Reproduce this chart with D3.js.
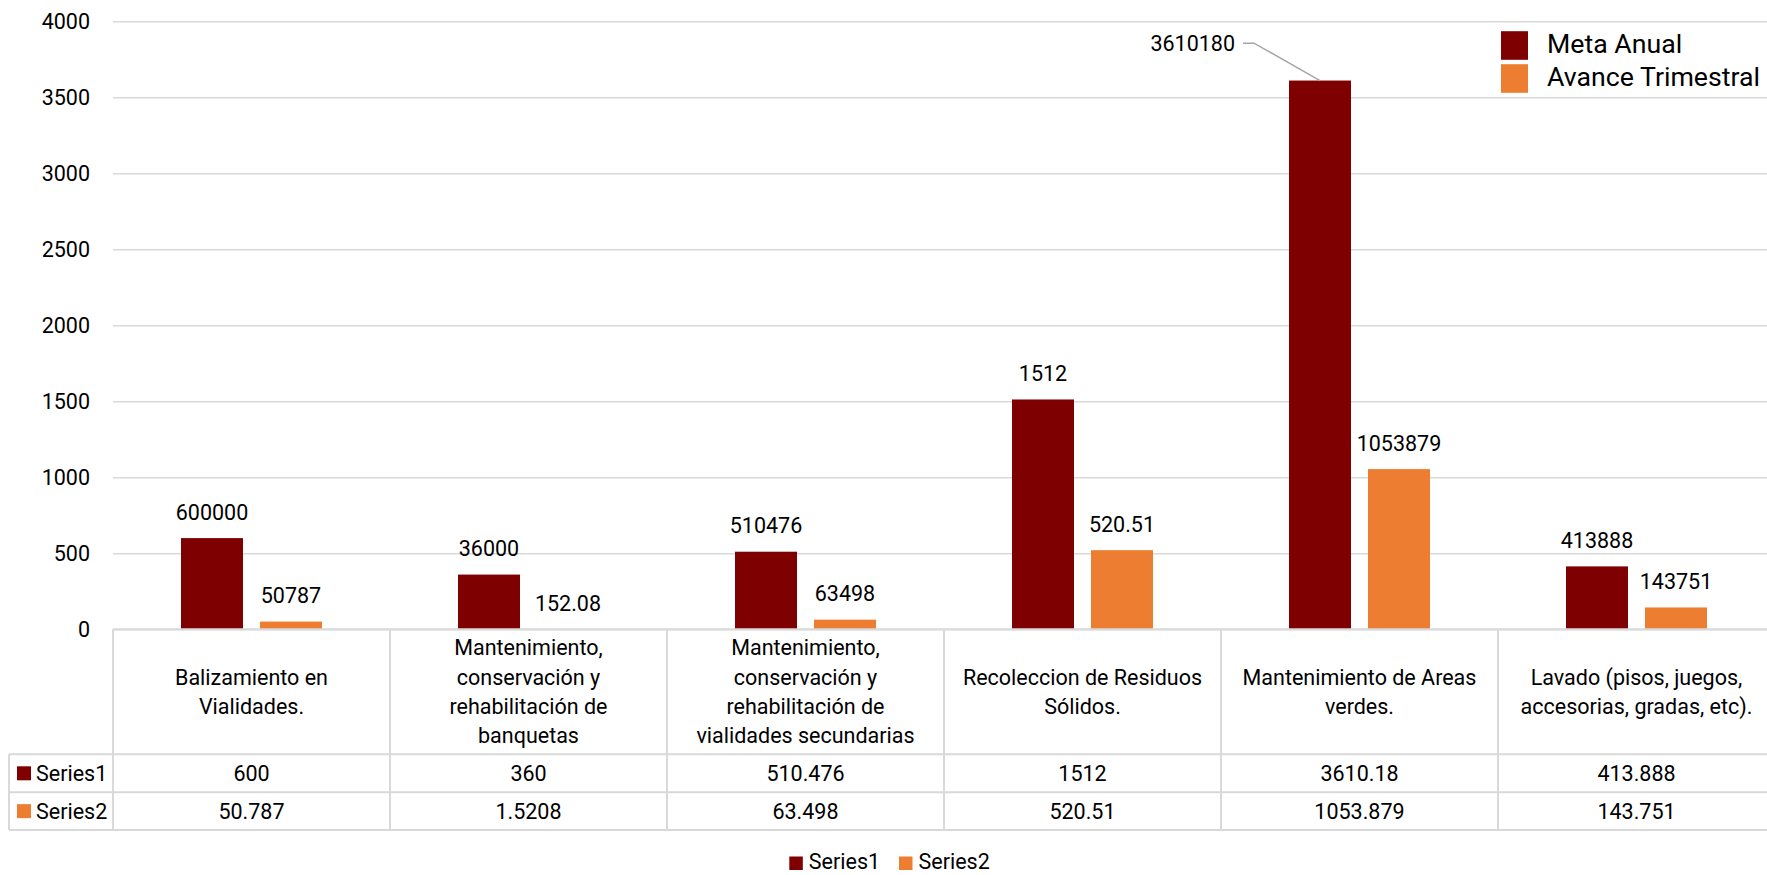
<!DOCTYPE html>
<html>
<head>
<meta charset="utf-8">
<script src="https://cdn.jsdelivr.net/npm/d3@7"></script>
<style>
  html, body { margin: 0; padding: 0; background: #fff; }
  svg { display: block; }
  text { font-family: Roboto, "Open Sans", sans-serif; fill: #000; }
</style>
</head>
<body>
<svg id="chart" width="1767" height="875"></svg>
<script>
// ---- data ----
const categories = [
  "Balizamiento en\nVialidades.",
  "Mantenimiento,\nconservación y\nrehabilitación de\nbanquetas",
  "Mantenimiento,\nconservación y\nrehabilitación de\nvialidades secundarias",
  "Recoleccion de Residuos\nSólidos.",
  "Mantenimiento de Areas\nverdes.",
  "Lavado (pisos, juegos,\naccesorias, gradas, etc)."
];
const seriesNames = ["Series1", "Series2"];
const legendNames = ["Meta Anual", "Avance Trimestral"];
const series1 = [600, 360, 510.476, 1512, 3610.18, 413.888];
const series2 = [50.787, 1.5208, 63.498, 520.51, 1053.879, 143.751];
const series1Table = ["600", "360", "510.476", "1512", "3610.18", "413.888"];
const series2Table = ["50.787", "1.5208", "63.498", "520.51", "1053.879", "143.751"];
const series1Labels = ["600000", "36000", "510476", "1512", "3610180", "413888"];
const series2Labels = ["50787", "152.08", "63498", "520.51", "1053879", "143751"];
const yTicks = [0, 500, 1000, 1500, 2000, 2500, 3000, 3500, 4000];
const colors = ["#7F0000", "#ED7D31"];

// ---- layout ----
const W = 1767, H = 875;
const plotLeft = 113, plotTop = 21.3, plotBottom = 629.3;
const colW = 277;
const tableLeft = 9;
const rowCatBottom = 754.3, rowS1Bottom = 792.3, rowS2Bottom = 830;
const fs = 21.5;
const gridColor = "#d9d9d9";

const svg = d3.select("#chart");

const y = d3.scaleLinear().domain([0, 4000]).range([plotBottom, plotTop]);
const x0 = d3.scaleBand().domain(d3.range(categories.length))
  .range([plotLeft, plotLeft + colW * categories.length]).padding(0);
const x1 = d3.scaleBand().domain(seriesNames).range([0, colW])
  .paddingInner(0.2152).paddingOuter(0.8608);

// gridlines (via axis)
const yAxis = d3.axisLeft(y).tickValues(yTicks).tickFormat(d3.format("d"))
  .tickSize(-(W - plotLeft)).tickPadding(23);
const gAxis = svg.append("g").attr("transform", `translate(${plotLeft},0)`).call(yAxis);
gAxis.select(".domain").remove();
gAxis.selectAll(".tick line").attr("stroke", gridColor).attr("stroke-width", 1.5);
gAxis.selectAll(".tick text")
  .style("font-size", fs + "px").attr("fill", "#000")
  .attr("dy", "0.355em").attr("font-family", "Roboto");

// bars
const data = categories.map((c, i) => ({ i, vals: [series1[i], series2[i]], labels: [series1Labels[i], series2Labels[i]] }));
const groups = svg.append("g").selectAll("g").data(data).join("g")
  .attr("transform", d => `translate(${x0(d.i)},0)`);
groups.selectAll("rect").data(d => d.vals.map((v, k) => ({ v, k })))
  .join("rect")
  .attr("x", d => x1(seriesNames[d.k]))
  .attr("width", x1.bandwidth())
  .attr("y", d => y(d.v))
  .attr("height", d => plotBottom - y(d.v))
  .attr("fill", d => colors[d.k]);

// data labels
data.forEach(d => {
  d.vals.forEach((v, k) => {
    const cx = x0(d.i) + x1(seriesNames[k]) + x1.bandwidth() / 2;
    const top = y(v);
    if (top - 26 < plotTop + 60) {
      // label near the top edge: place it to the left with a leader line
      const ty = top - 37.4;
      svg.append("path")
        .attr("d", `M${cx - 77},${ty} L${cx - 66},${ty} L${cx},${top}`)
        .attr("fill", "none").attr("stroke", "#a6a6a6").attr("stroke-width", 1.5);
      svg.append("text").attr("x", cx - 85).attr("y", ty).attr("dy", "0.355em")
        .attr("text-anchor", "end").style("font-size", fs + "px").text(d.labels[k]);
    } else {
      svg.append("text").attr("x", cx).attr("y", top - 26).attr("dy", "0.355em")
        .attr("text-anchor", "middle").style("font-size", fs + "px").text(d.labels[k]);
    }
  });
});

// ---- data table ----
const tbl = svg.append("g");
const right = W + 10;
const line = (x1_, y1_, x2_, y2_) => tbl.append("line")
  .attr("x1", x1_).attr("y1", y1_).attr("x2", x2_).attr("y2", y2_)
  .attr("stroke", gridColor).attr("stroke-width", 2);
line(plotLeft, plotBottom, right, plotBottom);
line(tableLeft, rowCatBottom, right, rowCatBottom);
line(tableLeft, rowS1Bottom, right, rowS1Bottom);
line(tableLeft, rowS2Bottom, right, rowS2Bottom);
line(tableLeft, rowCatBottom, tableLeft, rowS2Bottom);
for (let i = 0; i <= categories.length; i++) {
  const xx = plotLeft + colW * i;
  line(xx, plotBottom, xx, rowS2Bottom);
}
// category text
const lh = 29.3;
categories.forEach((c, i) => {
  const lines = c.split("\n");
  const cx = x0(i) + colW / 2;
  const cy = (plotBottom + rowCatBottom) / 2;
  const t = tbl.append("text").attr("text-anchor", "middle").style("font-size", fs + "px");
  lines.forEach((ln, j) => {
    t.append("tspan").attr("x", cx)
      .attr("y", cy + (j - (lines.length - 1) / 2) * lh)
      .attr("dy", "0.355em").text(ln);
  });
});
// values rows
[[series1Table, rowCatBottom, rowS1Bottom], [series2Table, rowS1Bottom, rowS2Bottom]].forEach(([vals, t0, t1], k) => {
  const cy = (t0 + t1) / 2;
  vals.forEach((v, i) => {
    tbl.append("text").attr("x", x0(i) + colW / 2).attr("y", cy).attr("dy", "0.355em")
      .attr("text-anchor", "middle").style("font-size", fs + "px").text(v);
  });
  tbl.append("rect").attr("x", 17).attr("y", cy - 7).attr("width", 14).attr("height", 14).attr("fill", colors[k]);
  tbl.append("text").attr("x", 36).attr("y", cy).attr("dy", "0.355em")
    .style("font-size", fs + "px").text(seriesNames[k]);
});

// ---- top-right legend ----
const leg = svg.append("g");
legendNames.forEach((n, k) => {
  const cy = 45.5 + k * 33;
  leg.append("rect").attr("x", 1501).attr("y", cy - 14.3).attr("width", 27).attr("height", 28.6).attr("fill", colors[k]);
  leg.append("text").attr("x", 1547).attr("y", cy - 2).attr("dy", "0.355em")
    .style("font-size", "26.7px").text(n);
});

// ---- bottom legend ----
const bl = svg.append("g");
const bottomX = [789.3, 899];
seriesNames.forEach((n, k) => {
  bl.append("rect").attr("x", bottomX[k]).attr("y", 856.5).attr("width", 13.5).attr("height", 13.5).attr("fill", colors[k]);
  bl.append("text").attr("x", bottomX[k] + 19.5).attr("y", 869).style("font-size", fs + "px").text(n);
});
</script>
</body>
</html>
